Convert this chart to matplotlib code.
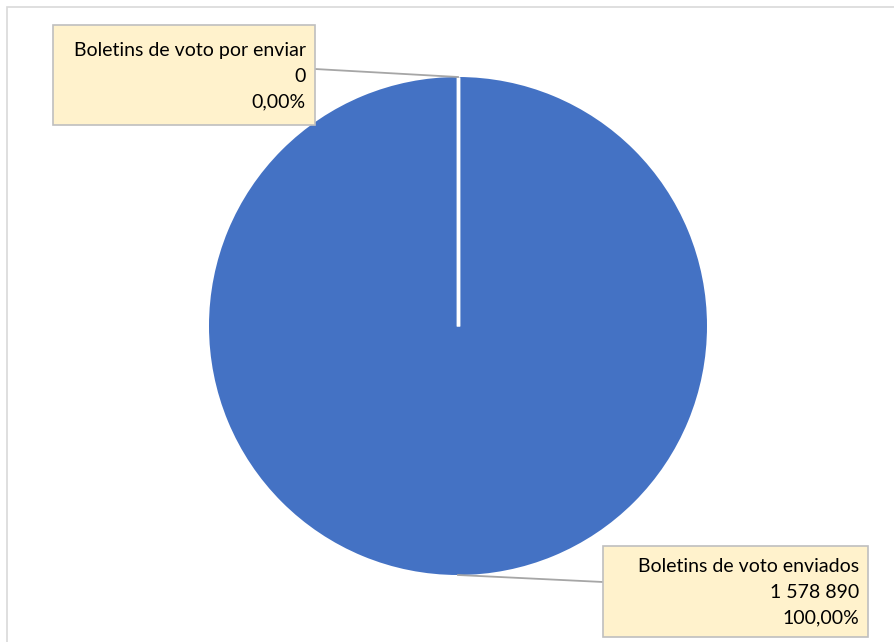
import matplotlib.pyplot as plt
from matplotlib.patches import Rectangle
import numpy as np

categories = ["Boletins de voto por enviar", "Boletins de voto enviados"]
values = [0, 1578890]
value_labels = ["0", "1 578 890"]
pct_labels = ["0,00%", "100,00%"]

colors = ["#ED7D31", "#4472C4"]

W, H = 894, 642
fig = plt.figure(figsize=(W / 100, H / 100), dpi=100)
ax = fig.add_axes([0, 0, 1, 1])

# chart area border (cropped on right/bottom)
ax.add_patch(Rectangle((7, -5), W + 10, H - 7 + 5, fill=False,
                       edgecolor="#D9D9D9", linewidth=1.2))

center = (458, H - 326)
radius = 249
wedges, _ = ax.pie(values, colors=colors, startangle=90, counterclock=False,
                   center=center, radius=radius, frame=True,
                   wedgeprops=dict(linewidth=0))
ax.set_xlim(0, W)
ax.set_ylim(0, H)
ax.set_aspect("equal")
ax.axis("off")

# slice separator (full-circle wedge draws no radial edge)
for w in wedges:
    a = np.deg2rad(w.theta1)
    ax.plot([center[0], center[0] + radius * np.cos(a)],
            [center[1], center[1] + radius * np.sin(a)],
            color="white", linewidth=2.5, solid_capstyle="butt", zorder=2)

# label boxes (x, y of top-left in pixels, width, height)
boxes = [(53, 25, 262, 100), (603, 546, 265, 91)]
anchors = [(315, 69), (603, 582)]

for i, w in enumerate(wedges):
    mid = np.deg2rad((w.theta1 + w.theta2) / 2)
    px = center[0] + radius * np.cos(mid)
    py = center[1] + radius * np.sin(mid)
    bx, by, bw, bh = boxes[i]
    ax.add_patch(Rectangle((bx, H - by - bh), bw, bh, facecolor="#FFF2CC",
                           edgecolor="#BFBFBF", linewidth=1.2, zorder=3))
    ax.plot([anchors[i][0], px], [H - anchors[i][1], py],
            color="#A6A6A6", linewidth=1.3, zorder=2)
    txt = f"{categories[i]}\n{value_labels[i]}\n{pct_labels[i]}"
    ax.text(bx + bw - 9, H - by - bh / 2 - 1, txt, ha="right", va="center",
            multialignment="right", fontsize=14, family="Lato",
            color="#000000", linespacing=1.62, zorder=4)

fig.savefig("out.png", dpi=100)
